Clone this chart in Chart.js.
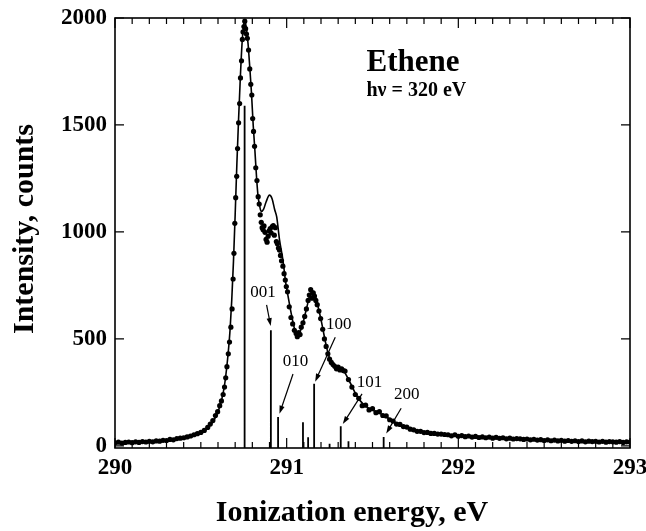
<!DOCTYPE html>
<html>
<head>
<meta charset="utf-8">
<script src="https://cdn.jsdelivr.net/npm/chart.js@4.4.0/dist/chart.umd.min.js"></script>
<style>
  html, body { margin: 0; padding: 0; background: #fff; }
  canvas { display: block; }
</style>
</head>
<body>
<canvas id="spectrum" width="646" height="531"></canvas>
<script>
// fitted curve (ionization energy in eV, intensity in counts)
const fitEnergy = [290.00, 290.10, 290.20, 290.30, 290.40, 290.45, 290.50, 290.55, 290.58, 290.60,
  290.62, 290.64, 290.66, 290.67, 290.68, 290.69, 290.70, 290.71, 290.72, 290.73,
  290.74, 290.75, 290.756, 290.765, 290.775, 290.785, 290.795, 290.805, 290.815, 290.825,
  290.833, 290.843, 290.852, 290.865, 290.88, 290.90, 290.915, 290.93, 290.942, 290.958,
  290.978, 290.994, 291.008, 291.025, 291.045, 291.066, 291.09, 291.115, 291.14, 291.155,
  291.175, 291.20, 291.23, 291.25, 291.29, 291.33, 291.37, 291.41, 291.45, 291.50,
  291.56, 291.62, 291.68, 291.75, 291.83, 291.93, 292.01, 292.10, 292.30, 292.50,
  292.70, 292.90, 293.00];
const fitCounts = [14, 16, 19, 24, 34, 44, 60, 92, 125, 160,
  210, 295, 440, 540, 680, 860, 1080, 1320, 1530, 1720,
  1880, 1970, 1990, 1950, 1880, 1770, 1650, 1500, 1380, 1250,
  1170, 1120, 1095, 1105, 1140, 1172, 1155, 1105, 1070, 965,
  870, 765, 700, 625, 550, 520, 560, 640, 715, 722,
  675, 590, 470, 410, 368, 352, 295, 232, 192, 167,
  145, 115, 90, 70, 60, 52, 47, 42, 35, 27,
  22, 19, 18];

// measured points
const dotEnergy = [290.00, 290.02, 290.04, 290.06, 290.08, 290.10, 290.12, 290.14, 290.16, 290.18,
  290.20, 290.22, 290.24, 290.26, 290.28, 290.30, 290.32, 290.34, 290.36, 290.38,
  290.40, 290.42, 290.44, 290.46, 290.48, 290.50, 290.52, 290.54, 290.555, 290.57,
  290.585, 290.598, 290.61, 290.62, 290.63, 290.638, 290.645, 290.652, 290.66, 290.667,
  290.675, 290.682, 290.688, 290.693, 290.698, 290.703, 290.709, 290.714, 290.72, 290.726,
  290.731, 290.737, 290.742, 290.746, 290.751, 290.756, 290.761, 290.766, 290.771, 290.778,
  290.785, 290.791, 290.797, 290.802, 290.807, 290.813, 290.82, 290.827, 290.834, 290.84,
  290.846, 290.852, 290.857, 290.863, 290.868, 290.874, 290.88, 290.886, 290.892, 290.898,
  290.904, 290.91, 290.916, 290.922, 290.928, 290.934, 290.94, 290.946, 290.952, 290.958,
  290.964, 290.97, 290.978, 290.985, 290.992, 290.998, 291.005, 291.015, 291.025, 291.035,
  291.045, 291.055, 291.062, 291.07, 291.078, 291.085, 291.095, 291.105, 291.115, 291.125,
  291.132, 291.14, 291.148, 291.155, 291.162, 291.17, 291.178, 291.188, 291.198, 291.21,
  291.22, 291.23, 291.24, 291.25, 291.26, 291.27, 291.28, 291.29, 291.30, 291.31,
  291.32, 291.33, 291.34, 291.36, 291.38, 291.40, 291.42, 291.44, 291.46, 291.48,
  291.50, 291.52, 291.54, 291.56, 291.58, 291.60, 291.62, 291.64, 291.66, 291.68,
  291.70, 291.72, 291.74, 291.76, 291.78, 291.80, 291.82, 291.84, 291.86, 291.88,
  291.90, 291.92, 291.94, 291.96, 291.98, 292.00, 292.02, 292.04, 292.06, 292.08,
  292.10, 292.12, 292.14, 292.16, 292.18, 292.20, 292.22, 292.24, 292.26, 292.28,
  292.30, 292.32, 292.34, 292.36, 292.38, 292.40, 292.42, 292.44, 292.46, 292.48,
  292.50, 292.52, 292.54, 292.56, 292.58, 292.60, 292.62, 292.64, 292.66, 292.68,
  292.70, 292.72, 292.74, 292.76, 292.78, 292.80, 292.82, 292.84, 292.86, 292.88,
  292.90, 292.92, 292.94, 292.96, 292.98, 293.00];
const dotCounts = [14, 17, 13, 16, 18, 15, 19, 16, 20, 18,
  21, 19, 23, 22, 26, 25, 30, 28, 34, 36,
  38, 42, 46, 52, 57, 63, 72, 86, 102, 118,
  142, 160, 188, 210, 240, 275, 318, 370, 430, 485,
  555, 640, 780, 900, 1040, 1160, 1260, 1390, 1510, 1600,
  1720, 1800, 1900, 1935, 1960, 1985, 1950, 1925, 1905, 1850,
  1762, 1690, 1640, 1530, 1470, 1400, 1300, 1240, 1165, 1130,
  1080, 1045, 1020, 1010, 1028, 998, 965, 952, 980, 1005,
  1015, 995, 1025, 1030, 985, 1020, 955, 945, 925, 915,
  890, 865, 840, 805, 775, 745, 720, 650, 600, 570,
  540, 525, 510, 530, 520, 555, 575, 605, 640, 680,
  705, 730, 690, 715, 700, 680, 660, 630, 595, 545,
  500, 465, 430, 405, 390, 380, 372, 360, 368, 355,
  360, 352, 350, 310, 275, 240, 222, 188, 190, 168,
  174, 155, 160, 142, 140, 122, 116, 102, 100, 90,
  88, 78, 75, 68, 68, 62, 63, 58, 58, 55,
  55, 53, 52, 47, 52, 45, 48, 43, 46, 41,
  44, 39, 42, 38, 41, 36, 40, 35, 38, 33,
  36, 32, 34, 33, 30, 32, 28, 31, 27, 29,
  25, 28, 24, 27, 23, 26, 22, 25, 21, 24,
  20, 23, 19, 22, 20, 21, 18, 21, 17, 20,
  19, 17, 20, 16, 19, 18];

// vibrational stick spectrum
const stickEnergy = [290.755, 290.908, 290.950, 291.095, 291.125, 291.160, 291.250, 291.315, 291.360, 291.565];
const stickCounts = [1590, 540, 135, 110, 40, 290, 10, 92, 22, 42];

// labelled progression members and their arrows
const noteText = ['001', '010', '100', '101', '200'];
const noteE = [290.862, 291.051, 291.304, 291.483, 291.700];
const noteI = [717, 394, 565, 294, 238];
const arrowFromE = [290.883, 291.037, 291.283, 291.439, 291.667];
const arrowFromI = [659, 336, 508, 243, 176];
const arrowToE = [290.907, 290.958, 291.166, 291.327, 291.580];
const arrowToI = [560, 150, 300, 102, 58];

const xTicks = [290, 291, 292, 293];
const yTicks = [0, 500, 1000, 1500, 2000];
const xMin = 290, xMax = 293, yMin = -10, yMax = 2000;

const serif = '"Liberation Serif", "Times New Roman", serif';

// stick lines: base -> top, broken by a null
const stickPoints = [];
stickEnergy.forEach((e, i) => {
  stickPoints.push({ x: e, y: yMin }, { x: e, y: stickCounts[i] }, { x: e, y: null });
});

function drawArrow(ctx, x0, y0, x1, y1) {
  const ang = Math.atan2(y1 - y0, x1 - x0);
  const head = 8, half = 2.6;
  ctx.beginPath();
  ctx.moveTo(x0, y0);
  ctx.lineTo(x1 - Math.cos(ang) * head * 0.7, y1 - Math.sin(ang) * head * 0.7);
  ctx.stroke();
  ctx.beginPath();
  ctx.moveTo(x1, y1);
  ctx.lineTo(x1 - head * Math.cos(ang) + half * Math.sin(ang), y1 - head * Math.sin(ang) - half * Math.cos(ang));
  ctx.lineTo(x1 - head * Math.cos(ang) - half * Math.sin(ang), y1 - head * Math.sin(ang) + half * Math.cos(ang));
  ctx.closePath();
  ctx.fill();
}

// frame, inward ticks, notes and axis titles
const frameAndNotes = {
  id: 'frameAndNotes',
  afterDatasetsDraw(chart) {
    const { ctx, chartArea: a, scales: { x, y } } = chart;
    ctx.save();
    ctx.strokeStyle = '#000';
    ctx.fillStyle = '#000';
    ctx.lineWidth = 1.6;
    ctx.strokeRect(a.left, a.top, a.right - a.left, a.bottom - a.top);

    ctx.lineWidth = 1.2;
    ctx.beginPath();
    for (let i = 0; i <= 30; i++) {
      const px = x.getPixelForValue(xMin + i / 10);
      const len = i % 10 === 0 ? 10 : 6;
      ctx.moveTo(px, a.bottom); ctx.lineTo(px, a.bottom - len);
      ctx.moveTo(px, a.top); ctx.lineTo(px, a.top + len);
    }
    yTicks.forEach(v => {
      const py = y.getPixelForValue(v);
      ctx.moveTo(a.left, py); ctx.lineTo(a.left + 9, py);
      ctx.moveTo(a.right, py); ctx.lineTo(a.right - 9, py);
    });
    ctx.stroke();

    // progression labels
    ctx.font = '17px ' + serif;
    ctx.textAlign = 'center';
    ctx.textBaseline = 'middle';
    noteText.forEach((t, i) => {
      ctx.fillText(t, x.getPixelForValue(noteE[i]), y.getPixelForValue(noteI[i]));
    });
    ctx.lineWidth = 1.2;
    noteText.forEach((t, i) => {
      drawArrow(ctx,
        x.getPixelForValue(arrowFromE[i]), y.getPixelForValue(arrowFromI[i]),
        x.getPixelForValue(arrowToE[i]), y.getPixelForValue(arrowToI[i]));
    });

    // molecule and photon energy
    ctx.textAlign = 'left';
    ctx.textBaseline = 'alphabetic';
    ctx.font = 'bold 31px ' + serif;
    ctx.fillText('Ethene', x.getPixelForValue(291.465), y.getPixelForValue(1752));
    ctx.font = 'bold 20px ' + serif;
    ctx.fillText('h\u03bd = 320 eV', x.getPixelForValue(291.465), y.getPixelForValue(1635));

    // axis titles
    ctx.font = 'bold 30px ' + serif;
    ctx.textAlign = 'center';
    ctx.fillText('Ionization energy, eV', 352, 521);
    ctx.translate(33, 229);
    ctx.rotate(-Math.PI / 2);
    ctx.fillText('Intensity, counts', 0, 0);
    ctx.restore();
  }
};

new Chart(document.getElementById('spectrum'), {
  type: 'line',
  data: {
    datasets: [
      {
        label: 'sticks',
        data: stickPoints,
        borderColor: '#000',
        borderWidth: 1.8,
        pointRadius: 0,
        spanGaps: false,
        order: 3
      },
      {
        label: 'fit',
        data: fitEnergy.map((e, i) => ({ x: e, y: fitCounts[i] })),
        borderColor: '#000',
        borderWidth: 1.6,
        pointRadius: 0,
        cubicInterpolationMode: 'monotone',
        order: 2
      },
      {
        label: 'measured',
        data: dotEnergy.map((e, i) => ({ x: e, y: dotCounts[i] })),
        showLine: false,
        pointRadius: 2.6,
        pointBorderWidth: 0,
        pointBackgroundColor: '#000',
        order: 1
      }
    ]
  },
  options: {
    responsive: false,
    devicePixelRatio: 1,
    animation: false,
    layout: { padding: { left: 0, top: 18, right: 16, bottom: 0 } },
    plugins: { legend: { display: false }, tooltip: { enabled: false } },
    scales: {
      x: {
        type: 'linear',
        min: xMin,
        max: xMax,
        afterBuildTicks: s => { s.ticks = xTicks.map(v => ({ value: v })); },
        afterFit: s => { s.height = 83; s.paddingLeft = 0; s.paddingRight = 0; },
        grid: { display: false, drawTicks: false },
        border: { display: false },
        ticks: {
          padding: 6,
          color: '#000',
          maxRotation: 0,
          font: { family: serif, size: 23, weight: 'bold' },
          callback: v => String(v)
        }
      },
      y: {
        min: yMin,
        max: yMax,
        afterBuildTicks: s => { s.ticks = yTicks.map(v => ({ value: v })); },
        afterFit: s => { s.width = 115; s.paddingTop = 0; s.paddingBottom = 0; },
        grid: { display: false, drawTicks: false },
        border: { display: false },
        ticks: {
          padding: 8,
          color: '#000',
          font: { family: serif, size: 23, weight: 'bold' },
          callback: v => String(v)
        }
      }
    }
  },
  plugins: [frameAndNotes]
});
</script>
</body>
</html>
